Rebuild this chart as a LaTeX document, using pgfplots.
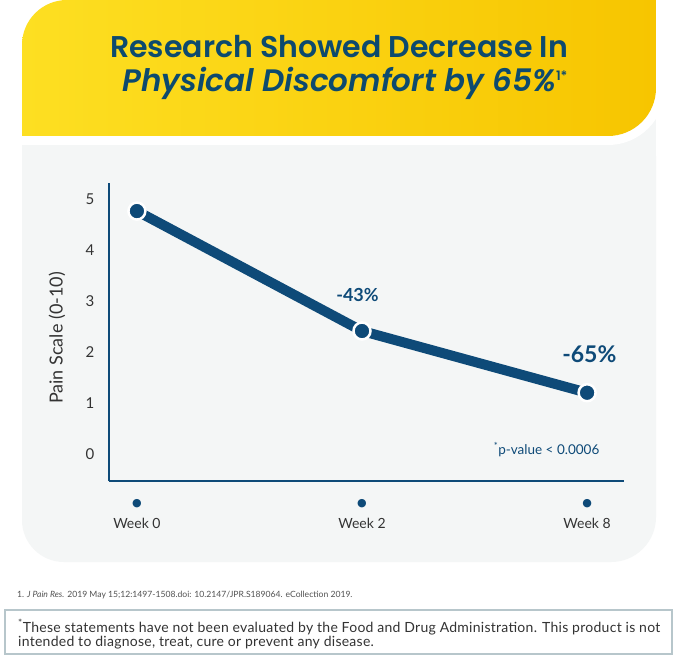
\documentclass[border=0pt]{standalone}
\usepackage{pgfplots}
\pgfplotsset{compat=1.18}
\usepackage{fontspec}
\setmainfont{Lato}
\newfontfamily\titlefont{Poppins}[BoldFont={* SemiBold}, BoldItalicFont={* SemiBold Italic}]
\newfontfamily\footfont{Lato}[LetterSpace=1.9]
\newfontfamily\dejavu{DejaVu Sans}
\definecolor{navy}{HTML}{0E4A78}
\definecolor{titleblue}{HTML}{0D4A6E}
\definecolor{panelgrey}{HTML}{F4F6F6}
\definecolor{yellowL}{HTML}{FDDF22}
\definecolor{yellowR}{HTML}{F7C500}
\definecolor{textgrey}{HTML}{333333}
\definecolor{boxline}{HTML}{B7C6CB}
\newcommand{\tdot}{{\dejavu\fontsize{11}{11}\selectfont\textcolor{navy}{●}}}
\begin{document}
\begin{tikzpicture}
\useasboundingbox (0pt,0pt) rectangle (679pt,656pt);
% background
\fill[white] (0pt,0pt) rectangle (679pt,656pt);
% grey panel
\fill[panelgrey] (22pt,556pt) -- (22pt,136pt) arc[start angle=180,end angle=270,radius=42pt] -- (611pt,94pt) arc[start angle=270,end angle=360,radius=45pt] -- (656pt,556pt) -- cycle;
% yellow banner with white rim
\draw[white,line width=18pt] (22pt,520pt) -- (22pt,611pt) arc[start angle=180,end angle=90,radius=45pt] -- (656pt,656pt) -- (656pt,568pt) arc[start angle=0,end angle=-90,radius=48pt] -- cycle;
\shade[left color=yellowL,right color=yellowR] (22pt,520pt) -- (22pt,611pt) arc[start angle=180,end angle=90,radius=45pt] -- (656pt,656pt) -- (656pt,568pt) arc[start angle=0,end angle=-90,radius=48pt] -- cycle;
\fill[white] (0pt,640pt) rectangle (22pt,656pt);
\fill[white] (656pt,500pt) rectangle (679pt,656pt);
% title
\node[anchor=base,text=titleblue,font=\titlefont\fontsize{30}{34}\selectfont\bfseries] at (339pt,598pt) {Research Showed Decrease In};
\node[anchor=base west,inner sep=0pt,text=titleblue,font=\titlefont\fontsize{31}{34}\selectfont\bfseries\itshape] at (122pt,564pt) {Physical Discomfort by 65\%\raisebox{11pt}{\upshape\fontsize{13}{13}\selectfont 1*}};
% y label
\node[rotate=90,text=textgrey,font=\fontsize{18}{20}\selectfont] at (57pt,318pt) {Pain Scale (0-10)};
\begin{axis}[
  at={(109pt,175pt)}, anchor=south west,
  scale only axis, width=515pt, height=298pt,
  xmin=-0.124, xmax=2.164, ymin=-0.53, ymax=5.31,
  axis x line=bottom, axis y line=left,
  axis line style={-, draw=navy, line width=1.4pt},
  ytick={0,1,2,3,4,5},
  xtick={0,1,2},
  xticklabels={{\tdot\\[6pt]Week 0},{\tdot\\[6pt]Week 2},{\tdot\\[6pt]Week 8}},
  major tick length=0pt,
  tick label style={text=textgrey, font=\fontsize{14}{16}\selectfont},
  yticklabel style={anchor=center, xshift=-19pt, font=\fontsize{15}{16}\selectfont},
  xticklabel style={align=center, anchor=north, yshift=-15pt},
  /pgf/number format/assume math mode=true,
  clip=false,
]
\addplot[navy, line width=10pt, mark=*, mark size=8.5pt,
  mark options={fill=navy, draw=white, line width=2.5pt}]
  coordinates {(0,4.76) (1,2.41) (2,1.20)};
\node[text=navy, font=\fontsize{18}{20}\selectfont\bfseries] at (axis cs:0.98,3.12) {-43\%};
\node[text=navy, font=\fontsize{23}{26}\selectfont\bfseries] at (axis cs:2.01,1.96) {-65\%};
\node[text=navy, font=\fontsize{13.5}{15}\selectfont] at (axis cs:1.82,0.08) {\textsuperscript{*}p-value < 0.0006};
\end{axis}
% footer
\node[anchor=base west,inner sep=0pt,text=textgrey!85,font=\fontsize{8.6}{10}\selectfont] at (17pt,59pt) {1. \textit{J Pain Res.} 2019 May 15;12:1497-1508.doi: 10.2147/JPR.S189064. eCollection 2019.};
\draw[boxline, line width=1.2pt, fill=white] (5pt,2pt) rectangle (672pt,46pt);
\node[anchor=base west,inner sep=0pt,text=textgrey,font=\footfont\fontsize{14}{16}\selectfont] at (18pt,24pt) {\textsuperscript{*}These statements have not been evaluated by the Food and Drug Administration. This product is not};
\node[anchor=base west,inner sep=0pt,text=textgrey,font=\footfont\fontsize{14}{16}\selectfont] at (18pt,9.5pt) {intended to diagnose, treat, cure or prevent any disease.};
\end{tikzpicture}
\end{document}
